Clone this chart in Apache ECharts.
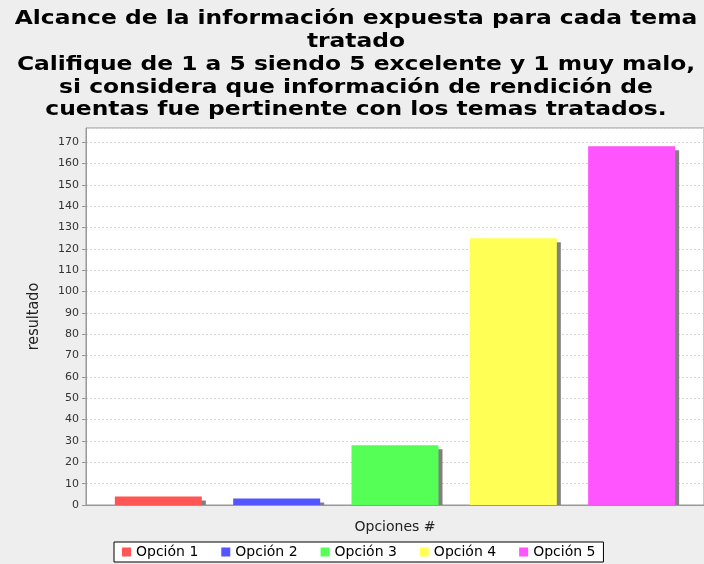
<!DOCTYPE html>
<html>
<head>
<meta charset="utf-8">
<script src="https://cdn.jsdelivr.net/npm/echarts@6/dist/echarts.min.js"></script>
<style>
  html, body { margin: 0; padding: 0; background: #eeeeee; }
  #chart { width: 704px; height: 564px; }
</style>
</head>
<body>
<div id="chart"></div>
<script>
// Datos del grafico
const categories = [''];
const seriesNames = ['Opción 1', 'Opción 2', 'Opción 3', 'Opción 4', 'Opción 5'];
const seriesValues = [4, 3, 28, 125, 168];
const barColors = ['#ff5555', '#5555ff', '#55ff55', '#ffff55', '#ff55ff'];

const titleText = 'Alcance de la información expuesta para cada tema\ntratado\n' +
  'Califique de 1 a 5 siendo 5 excelente y 1 muy malo,\n' +
  'si considera que información de rendición de\n' +
  'cuentas fue pertinente con los temas tratados.';

var chart = echarts.init(document.getElementById('chart'));

var series = [];
for (var i = 0; i < seriesNames.length; i++) {
  series.push({
    name: seriesNames[i],
    type: 'bar',
    data: [seriesValues[i]],
    barWidth: 87,
    barGap: '36%',
    itemStyle: {
      color: barColors[i],
      shadowColor: '#808080',
      shadowBlur: 0,
      shadowOffsetX: 4,
      shadowOffsetY: 4
    }
  });
}

var option = {
  backgroundColor: '#eeeeee',
  animation: false,
  legend: {
    data: seriesNames,
    left: 114,
    top: 542,
    icon: 'rect',
    itemWidth: 9,
    itemHeight: 9,
    itemGap: 23,
    padding: [3, 8],
    borderColor: '#000',
    borderWidth: 1,
    backgroundColor: '#fff',
    borderRadius: 0,
    textStyle: {
      fontFamily: 'DejaVu Sans',
      fontSize: 14,
      color: '#000'
    }
  },
  grid: {
    left: 86,
    right: 0,
    top: 128,
    bottom: 59,
    show: true,
    backgroundColor: '#fff',
    borderColor: '#999',
    borderWidth: 1
  },
  xAxis: {
    type: 'category',
    data: categories,
    z: 101,
    name: 'Opciones #',
    nameLocation: 'middle',
    nameGap: 15,
    nameTextStyle: { fontFamily: 'DejaVu Sans', fontSize: 14, color: '#222' },
    axisLine: { lineStyle: { color: '#999' } },
    axisTick: { alignWithLabel: true, length: 4, lineStyle: { color: '#999' } },
    axisLabel: { show: false }
  },
  yAxis: {
    type: 'value',
    min: 0,
    max: 176.6,
    interval: 10,
    name: 'resultado',
    nameLocation: 'middle',
    nameGap: 44,
    nameTextStyle: { fontFamily: 'DejaVu Sans Condensed', fontSize: 16, color: '#222' },
    axisLine: { show: true, lineStyle: { color: '#999' } },
    axisTick: { show: true, length: 4, lineStyle: { color: '#999' } },
    axisLabel: {
      showMaxLabel: false,
      margin: 7,
      fontFamily: 'DejaVu Sans',
      fontSize: 11,
      color: '#333'
    },
    splitLine: {
      lineStyle: { color: '#d4d4d4', type: [2, 2] }
    }
  },
  graphic: [
    // titulo (texto ensanchado como en la imagen)
    {
      type: 'text',
      x: 356,
      y: 8,
      scaleX: 1.23,
      style: {
        text: titleText,
        fill: '#000',
        fontFamily: 'DejaVu Sans',
        fontWeight: 'bold',
        fontSize: 19,
        lineHeight: 22.75,
        align: 'center',
        verticalAlign: 'top'
      }
    },
    // tapa la sombra que sale por debajo del eje
    { type: 'rect', left: 87, top: 506, shape: { width: 617, height: 5 }, style: { fill: '#eeeeee' }, z: 100 }
  ],
  series: series
};

chart.setOption(option);
</script>
</body>
</html>
